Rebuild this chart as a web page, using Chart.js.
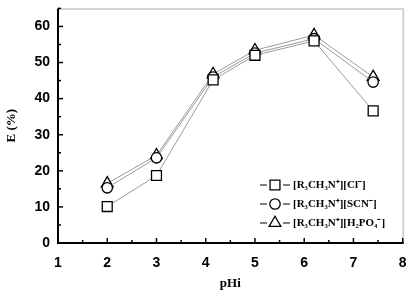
<!DOCTYPE html>
<html>
<head>
<meta charset="utf-8">
<script src="https://cdn.jsdelivr.net/npm/chart.js@4/dist/chart.umd.min.js"></script>
<style>
  html, body { margin: 0; padding: 0; background: #fff; }
  #wrap { width: 411px; height: 295px; }
</style>
</head>
<body>
<div id="wrap"><canvas id="lineChart" width="411" height="295"></canvas></div>
<script>
const pHi = [2, 3, 4.15, 5, 6.2, 7.4];
const clValues = [10.1, 18.7, 45.2, 52.0, 56.0, 36.6];
const scnValues = [15.3, 23.6, 46.0, 52.6, 56.6, 44.6];
const h2po4Values = [16.5, 24.3, 46.8, 53.4, 57.6, 46.0];
const seriesNames = ["[R\u2083CH\u2083N\u207A][Cl\u207B]", "[R\u2083CH\u2083N\u207A][SCN\u207B]", "[R\u2083CH\u2083N\u207A][H\u2082PO\u2084\u207B]"];
const xTicks = [1, 2, 3, 4, 5, 6, 7, 8];
const yTicks = [0, 10, 20, 30, 40, 50, 60];

const toPoints = (vals) => vals.map((v, i) => ({ x: pHi[i], y: v }));

const makeSet = (label, vals, style, radius) => ({
	label: label,
	data: toPoints(vals),
	borderColor: "#9a9a9a",
	borderWidth: 1,
	pointStyle: style,
	pointRadius: radius,
	pointBorderColor: "#000",
	pointBackgroundColor: "#fff",
	pointBorderWidth: 1.3,
	tension: 0,
});

// ticks pointing inwards + frame
const framePlugin = {
	id: "frame",
	afterDraw(chart) {
		const { ctx, chartArea: a, scales } = chart;
		ctx.save();
		ctx.strokeStyle = "#c8c8c8";
		ctx.lineWidth = 1.5;
		ctx.beginPath();
		ctx.moveTo(a.left, a.top + 0.5);
		ctx.lineTo(a.right + 0.5, a.top + 0.5);
		ctx.lineTo(a.right + 0.5, a.bottom);
		ctx.stroke();
		ctx.strokeStyle = "#000";
		ctx.lineWidth = 2;
		ctx.beginPath();
		ctx.moveTo(a.left, a.top);
		ctx.lineTo(a.left, a.bottom);
		ctx.lineTo(a.right + 1, a.bottom);
		ctx.stroke();
		ctx.lineWidth = 1.5;
		for (let v = 1; v <= 8; v += 0.5) {
			const x = scales.x.getPixelForValue(v);
			const len = Number.isInteger(v) ? 5 : 3;
			ctx.beginPath();
			ctx.moveTo(x, a.bottom);
			ctx.lineTo(x, a.bottom - len);
			ctx.stroke();
		}
		for (let v = 0; v <= 65; v += 5) {
			const y = scales.y.getPixelForValue(v);
			const len = v % 10 === 0 ? 5 : 3;
			ctx.beginPath();
			ctx.moveTo(a.left, y);
			ctx.lineTo(a.left + len, y);
			ctx.stroke();
		}
		ctx.restore();
	},
};

// legend with line-marker-line symbols
const legendPlugin = {
	id: "customLegend",
	afterDraw(chart) {
		const { ctx } = chart;
		const rows = [185, 204, 223];
		ctx.save();
		chart.data.datasets.forEach((ds, i) => {
			const y = rows[i];
			const cx = 275;
			ctx.strokeStyle = "#000";
			ctx.lineWidth = 1;
			ctx.beginPath();
			ctx.moveTo(260, y);
			ctx.lineTo(267, y);
			ctx.moveTo(283, y);
			ctx.lineTo(290, y);
			ctx.stroke();
			ctx.fillStyle = "#fff";
			ctx.lineWidth = 1.3;
			Chart.helpers.drawPoint(ctx, {
				pointStyle: ds.pointStyle,
				radius: ds.pointRadius,
				borderWidth: 1.3,
			}, cx, y);
			ctx.fillStyle = "#000";
			ctx.font = "bold 11px 'Liberation Serif', serif";
			ctx.textBaseline = "middle";
			ctx.textAlign = "left";
			ctx.fillText(ds.label, 293, y);
		});
		ctx.restore();
	},
};

const ctx = document.getElementById("lineChart").getContext("2d");

const config = {
	type: "line",
	data: {
		datasets: [
			makeSet(seriesNames[0], clValues, "rect", 7),
			makeSet(seriesNames[1], scnValues, "circle", 5.2),
			makeSet(seriesNames[2], h2po4Values, "triangle", 6.8),
		],
	},
	options: {
		responsive: false,
		animation: false,
		layout: { padding: { top: 8, right: 8, left: 0, bottom: 0 } },
		plugins: {
			legend: { display: false },
			tooltip: { enabled: false },
		},
		scales: {
			x: {
				type: "linear",
				min: 1,
				max: 8,
				afterFit(scale) { scale.height = 52; },
				afterBuildTicks(scale) { scale.ticks = xTicks.map((v) => ({ value: v })); },
				grid: { display: false },
				border: { display: false },
				ticks: {
					color: "#000",
					font: { family: "'Liberation Sans', Arial", size: 14, weight: "bold" },
					padding: 4,
				},
				title: {
					display: true,
					text: "pHi",
					color: "#000",
					font: { family: "'Liberation Serif', serif", size: 13, weight: "bold" },
					padding: { top: 10 },
				},
			},
			y: {
				min: 0,
				max: 65,
				afterFit(scale) { scale.width = 58; },
				afterBuildTicks(scale) { scale.ticks = yTicks.map((v) => ({ value: v })); },
				grid: { display: false },
				border: { display: false },
				ticks: {
					color: "#000",
					font: { family: "'Liberation Sans', Arial", size: 14, weight: "bold" },
					padding: 0,
				},
				title: {
					display: true,
					text: "E (%)",
					color: "#000",
					font: { family: "'Liberation Serif', serif", size: 13, weight: "bold" },
					padding: { bottom: 8 },
				},
			},
		},
	},
	plugins: [framePlugin, legendPlugin],
};

const lineChart = new Chart(ctx, config);
</script>
</body>
</html>
